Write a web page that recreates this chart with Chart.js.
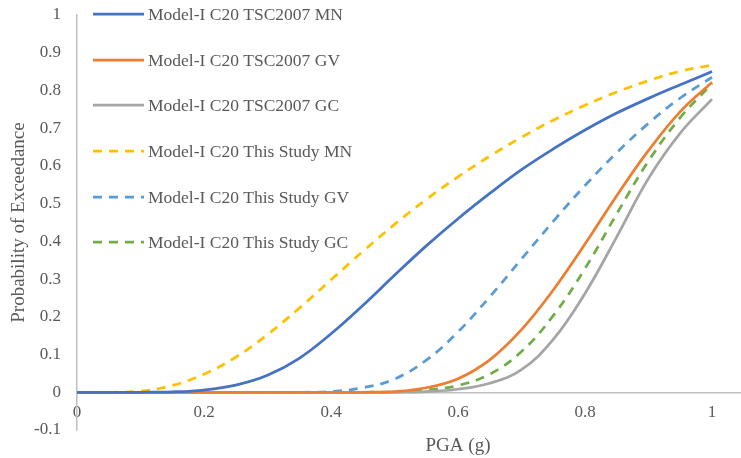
<!DOCTYPE html>
<html>
<head>
<meta charset="utf-8">
<script src="https://cdn.jsdelivr.net/npm/chart.js@4/dist/chart.umd.min.js"></script>
<style>
  html, body { margin: 0; padding: 0; background: #fff; overflow: hidden; }
  #wrap { width: 845px; height: 458px; position: relative; }
</style>
</head>
<body>
<div id="wrap"><canvas id="chartPoE"></canvas></div>
<script>
// PGA values (g)
const pga = [0, 0.05, 0.1, 0.15, 0.2, 0.25, 0.3, 0.35, 0.4, 0.45, 0.5, 0.55, 0.6, 0.65, 0.7, 0.75, 0.8, 0.85, 0.9, 0.95, 1];

// probability of exceedance
const tscMN   = [0, 0, 0, 0.001, 0.006, 0.019, 0.045, 0.09, 0.155, 0.23, 0.31, 0.388, 0.46, 0.527, 0.59, 0.645, 0.695, 0.74, 0.779, 0.815, 0.85];
const tscGV   = [0, 0, 0, 0, 0, 0, 0, 0, 0, 0, 0.002, 0.012, 0.036, 0.086, 0.166, 0.271, 0.393, 0.521, 0.641, 0.744, 0.822];
const tscGC   = [0, 0, 0, 0, 0, 0, 0, 0, 0, 0, 0, 0.002, 0.008, 0.024, 0.06, 0.14, 0.262, 0.412, 0.567, 0.687, 0.777];
const studyMN = [0, 0, 0.003, 0.018, 0.048, 0.093, 0.153, 0.223, 0.298, 0.373, 0.445, 0.511, 0.571, 0.626, 0.676, 0.721, 0.761, 0.796, 0.826, 0.851, 0.867];
const studyGV = [0, 0, 0, 0, 0, 0, 0, 0, 0.002, 0.012, 0.035, 0.085, 0.16, 0.253, 0.353, 0.453, 0.548, 0.635, 0.713, 0.78, 0.835];
const studyGC = [0, 0, 0, 0, 0, 0, 0, 0, 0, 0, 0.001, 0.006, 0.018, 0.048, 0.108, 0.203, 0.328, 0.473, 0.613, 0.728, 0.818];

const names = [
  'Model-I C20 TSC2007 MN',
  'Model-I C20 TSC2007 GV',
  'Model-I C20 TSC2007 GC',
  'Model-I C20 This Study MN',
  'Model-I C20 This Study GV',
  'Model-I C20 This Study GC'
];

const txt = '#595959';
const serif = "'Liberation Serif', 'Times New Roman', serif";

function pts(vals) {
  return vals.map((v, i) => ({ x: pga[i], y: v }));
}

function line(label, vals, color, dashed) {
  return {
    label: label,
    data: pts(vals),
    borderColor: color,
    backgroundColor: color,
    borderWidth: 2.75,
    borderDash: dashed ? [9, 7] : [],
    pointRadius: 0,
    tension: 0.4,
    fill: false
  };
}

// tick text like excel: 1, 0.9 ... 0, -0.1
function tickText(v) {
  return String(Number(v.toFixed(1)));
}

// legend drawn inside the plot, one row per series
const boxLegend = {
  id: 'boxLegend',
  afterDatasetsDraw(chart) {
    const c = chart.ctx;
    const x0 = 93, x1 = 144, tx = 148;
    const rows = [14, 60, 105, 151, 197, 242];
    chart.data.datasets.forEach((ds, i) => {
      const y = rows[i];
      c.save();
      c.strokeStyle = ds.borderColor;
      c.lineWidth = ds.borderWidth;
      c.setLineDash(ds.borderDash);
      c.beginPath();
      c.moveTo(x0, y);
      c.lineTo(x1, y);
      c.stroke();
      c.setLineDash([]);
      c.fillStyle = txt;
      c.font = '17.5px ' + serif;
      c.textBaseline = 'middle';
      c.textAlign = 'left';
      c.fillText(ds.label, tx, y + 1);
      c.restore();
    });
  }
};

const ctx = document.getElementById('chartPoE');

const data = {
  datasets: [
    line(names[0], tscMN, '#4472C4', false),
    line(names[1], tscGV, '#ED7D31', false),
    line(names[2], tscGC, '#A5A5A5', false),
    line(names[3], studyMN, '#FFC000', true),
    line(names[4], studyGV, '#5B9BD5', true),
    line(names[5], studyGC, '#70AD47', true)
  ]
};

const config = {
  type: 'line',
  data: data,
  options: {
    responsive: true,
    maintainAspectRatio: false,
    animation: false,
    layout: { padding: { top: 15, right: 6, bottom: 28, left: 0 } },
    plugins: { legend: { display: false }, tooltip: { enabled: false } },
    scales: {
      x: {
        type: 'linear',
        position: { y: 0 },
        min: 0,
        max: 1.2,
        afterBuildTicks(scale) {
          scale.ticks = scale.ticks.filter(t => t.value <= 1.0001);
        },
        ticks: { stepSize: 0.2, color: txt, font: { family: serif, size: 17 }, padding: 10, maxRotation: 0, callback: tickText },
        grid: { display: false, drawTicks: false },
        border: { display: true, color: '#BFBFBF', width: 1.5 },
        title: { display: true, text: 'PGA (g)', color: txt, font: { family: serif, size: 19 }, padding: { top: 2, bottom: 4 } }
      },
      y: {
        type: 'linear',
        min: -0.1,
        max: 1,
        afterFit(scale) {
          scale.width = 77;
          scale.paddingTop = 0;
          scale.paddingBottom = 0;
        },
        ticks: { stepSize: 0.1, color: txt, font: { family: serif, size: 17 }, padding: 16, callback: tickText },
        grid: { display: false, drawTicks: false },
        border: { display: true, color: '#BFBFBF', width: 1.5 },
        title: { display: true, text: 'Probability of Exceedance', color: txt, font: { family: serif, size: 19 }, padding: { top: 8, bottom: 4 } }
      }
    }
  },
  plugins: [boxLegend]
};

new Chart(ctx, config);
</script>
</body>
</html>
